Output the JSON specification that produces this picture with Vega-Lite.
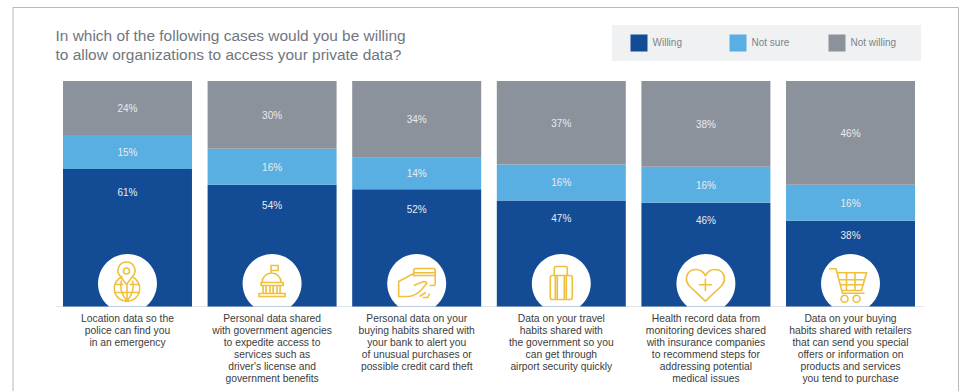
{
  "$schema": "https://vega.github.io/schema/vega-lite/v6.json",
  "width": 945.5,
  "height": 385,
  "autosize": {"type": "none"},
  "padding": {"left": 12.5, "top": 7, "right": 3, "bottom": 0},
  "background": "white",
  "config": {
    "font": "Liberation Sans",
    "view": {"stroke": "#b8b8b8", "strokeWidth": 1}
  },
  "title": {
    "text": ["In which of the following cases would you be willing", "to allow organizations to access your private data?"],
    "anchor": "start",
    "frame": "group",
    "align": "left",
    "baseline": "top",
    "dx": 43,
    "offset": -56,
    "font": "Liberation Sans",
    "fontSize": 15.45,
    "fontWeight": "normal",
    "lineHeight": 18.7,
    "color": "#6f7680"
  },
  "data": {
    "values": [
      {"case": "Location data so the\npolice can find you\nin an emergency", "response": "Willing", "rank": 1, "share": 61},
      {"case": "Location data so the\npolice can find you\nin an emergency", "response": "Not sure", "rank": 2, "share": 15},
      {"case": "Location data so the\npolice can find you\nin an emergency", "response": "Not willing", "rank": 3, "share": 24},
      {"case": "Personal data shared\nwith government agencies\nto expedite access to\nservices such as\ndriver's license and\ngovernment benefits", "response": "Willing", "rank": 1, "share": 54},
      {"case": "Personal data shared\nwith government agencies\nto expedite access to\nservices such as\ndriver's license and\ngovernment benefits", "response": "Not sure", "rank": 2, "share": 16},
      {"case": "Personal data shared\nwith government agencies\nto expedite access to\nservices such as\ndriver's license and\ngovernment benefits", "response": "Not willing", "rank": 3, "share": 30},
      {"case": "Personal data on your\nbuying habits shared with\nyour bank to alert you\nof unusual purchases or\npossible credit card theft", "response": "Willing", "rank": 1, "share": 52},
      {"case": "Personal data on your\nbuying habits shared with\nyour bank to alert you\nof unusual purchases or\npossible credit card theft", "response": "Not sure", "rank": 2, "share": 14},
      {"case": "Personal data on your\nbuying habits shared with\nyour bank to alert you\nof unusual purchases or\npossible credit card theft", "response": "Not willing", "rank": 3, "share": 34},
      {"case": "Data on your travel\nhabits shared with\nthe government so you\ncan get through\nairport security quickly", "response": "Willing", "rank": 1, "share": 47},
      {"case": "Data on your travel\nhabits shared with\nthe government so you\ncan get through\nairport security quickly", "response": "Not sure", "rank": 2, "share": 16},
      {"case": "Data on your travel\nhabits shared with\nthe government so you\ncan get through\nairport security quickly", "response": "Not willing", "rank": 3, "share": 37},
      {"case": "Health record data from\nmonitoring devices shared\nwith insurance companies\nto recommend steps for\naddressing potential\nmedical issues", "response": "Willing", "rank": 1, "share": 46},
      {"case": "Health record data from\nmonitoring devices shared\nwith insurance companies\nto recommend steps for\naddressing potential\nmedical issues", "response": "Not sure", "rank": 2, "share": 16},
      {"case": "Health record data from\nmonitoring devices shared\nwith insurance companies\nto recommend steps for\naddressing potential\nmedical issues", "response": "Not willing", "rank": 3, "share": 38},
      {"case": "Data on your buying\nhabits shared with retailers\nthat can send you special\noffers or information on\nproducts and services\nyou tend to purchase", "response": "Willing", "rank": 1, "share": 38},
      {"case": "Data on your buying\nhabits shared with retailers\nthat can send you special\noffers or information on\nproducts and services\nyou tend to purchase", "response": "Not sure", "rank": 2, "share": 16},
      {"case": "Data on your buying\nhabits shared with retailers\nthat can send you special\noffers or information on\nproducts and services\nyou tend to purchase", "response": "Not willing", "rank": 3, "share": 46}
    ]
  },
  "transform": [
    {"stack": "share", "groupby": ["case"], "sort": [{"field": "rank", "order": "ascending"}], "as": ["base", "top"]},
    {"calculate": "datum.response === 'Willing' ? datum.top * 0.835 : (datum.base + datum.top) / 2", "as": "labelAt"},
    {"calculate": "datum.share + '%'", "as": "shareText"}
  ],
  "encoding": {
    "x": {
      "field": "case",
      "type": "nominal",
      "sort": null,
      "scale": {"range": [42.5, 910.5], "paddingInner": 0.108, "paddingOuter": 0.0553},
      "axis": {
        "title": null,
        "orient": "bottom",
        "offset": -86,
        "ticks": false,
        "domainColor": "#e1e4e9",
        "domainWidth": 1,
        "labelAngle": 0,
        "labelPadding": 7,
        "labelBaseline": "top",
        "labelFont": "Liberation Sans",
        "labelFontSize": 10.3,
        "labelLineHeight": 12,
        "labelColor": "#3c3c3c",
        "labelLimit": 300,
        "labelOverlap": false,
        "labelExpr": "split(datum.value, '\\n')"
      }
    }
  },
  "layer": [
    {
      "mark": {"type": "bar"},
      "encoding": {
        "y": {"field": "base", "type": "quantitative", "scale": {"domain": [0, 100], "range": [299.5, 74], "nice": false, "zero": false}, "axis": null},
        "y2": {"field": "top"},
        "color": {
          "field": "response",
          "type": "nominal",
          "scale": {"domain": ["Willing", "Not sure", "Not willing"], "range": ["#134b94", "#5aafe2", "#8c929c"]},
          "legend": {
            "title": " ",
            "titleOrient": "right",
            "titlePadding": 15,
            "orient": "none",
            "legendX": 599.5,
            "legendY": 18,
            "direction": "horizontal",
            "columns": 3,
            "gridAlign": "all",
            "padding": 9.5,
            "fillColor": "#f0f1f3",
            "symbolType": "square",
            "symbolSize": 289,
            "symbolStrokeWidth": 0,
            "symbolOpacity": 1,
            "symbolOffset": 9,
            "labelOffset": 5,
            "labelFont": "Liberation Sans",
            "labelFontSize": 10,
            "labelColor": "#7d838c",
            "columnPadding": 22
          }
        }
      }
    },
    {
      "mark": {"type": "text", "baseline": "middle", "dy": 1, "fontSize": 10, "fill": "#e9ebee"},
      "encoding": {
        "y": {"field": "labelAt", "type": "quantitative"},
        "text": {"field": "shareText", "type": "nominal"}
      }
    },
    {
      "transform": [{"filter": "datum.response === 'Willing'"}],
      "mark": {"type": "point", "filled": true, "fill": "white", "opacity": 1, "size": 4, "shape": "M-18.5,23A29.5,29.5 0 1 1 18.5,23Z"},
      "encoding": {"y": {"datum": 10.2, "type": "quantitative"}}
    },
    {
      "transform": [{"filter": "datum.response === 'Willing'"}],
      "mark": {"type": "point", "filled": false, "stroke": "#eec03c", "strokeWidth": 1.6, "opacity": 1, "size": 4},
      "encoding": {
        "y": {"datum": 10.2, "type": "quantitative"},
        "shape": {
          "field": "case",
          "type": "nominal",
          "legend": null,
          "scale": {
            "domain": [
              "Location data so the\npolice can find you\nin an emergency",
              "Personal data shared\nwith government agencies\nto expedite access to\nservices such as\ndriver's license and\ngovernment benefits",
              "Personal data on your\nbuying habits shared with\nyour bank to alert you\nof unusual purchases or\npossible credit card theft",
              "Data on your travel\nhabits shared with\nthe government so you\ncan get through\nairport security quickly",
              "Health record data from\nmonitoring devices shared\nwith insurance companies\nto recommend steps for\naddressing potential\nmedical issues",
              "Data on your buying\nhabits shared with retailers\nthat can send you special\noffers or information on\nproducts and services\nyou tend to purchase"
            ],
            "range": [
              "M-1,1L-7,-7A8.5,8.5 0 1 1 5,-7ZM2,-12.5A3,3 0 1 1 -4,-12.5A3,3 0 1 1 2,-12.5ZM-5,-6.9A12.8,12.8 0 1 0 4,-6.9M-12.6,1H-4M2,1H11.6M-12.6,9H11.6M-0.5,1V17.8M-6,-3Q-9,7 -0.5,17.8Q8,7 5,-3",
              "M-13,10H13V13H-13ZM-11,-1H11V2H-11ZM-9,2V10M-6,2V10M-2,2V10M1,2V10M5,2V10M8,2V10M-10,-1A9.5,9.5 0 0 1 9,-1M-1,-10V-18H6V-13H-1",
              "M-3,-10L-18,-2V13H-8Q-2,13 5,6L10,0Q10,-2 7,-2L-3,2M-3,-7V-13Q-3,-15 -1,-15H16.5Q18.5,-15 18.5,-13V0Q18.5,2 16.5,2H13M-3,-10.7H18.5M-3,-8H18.5M3,13L9,9M6,14H11L13,10",
              "M-9,-8H9Q11,-8 11,-6V14Q11,16 9,16H-9Q-11,16 -11,14V-6Q-11,-8 -9,-8ZM-7,-8V-15Q-7,-17 -5,-17H4Q6,-17 6,-15V-8M-6,-8V16M-4,-8V16M3,-8V16M5,-8V16",
              "M-0.5,17.7L-17,2Q-20,-2 -19.5,-6Q-18,-14 -10,-14Q-4,-14 -0.5,-8Q3,-14 9,-14Q17,-14 18.5,-6Q19,-2 16,2ZM-0.5,-5V7.5M-7,1.3H6",
              "M-21.5,-14.7H-14.5L-8,9.7H14M-13.7,-10.7H16L11,7H-9M-4,-10.7V7M4.5,-10.7V7M-12.5,-3.7H14M-10.8,1.3H12.5M-2.5,15.3A3.5,3.5 0 1 1 -9.5,15.3A3.5,3.5 0 1 1 -2.5,15.3ZM9.5,15.3A3.5,3.5 0 1 1 2.5,15.3A3.5,3.5 0 1 1 9.5,15.3Z"
            ]
          }
        }
      }
    }
  ]
}
